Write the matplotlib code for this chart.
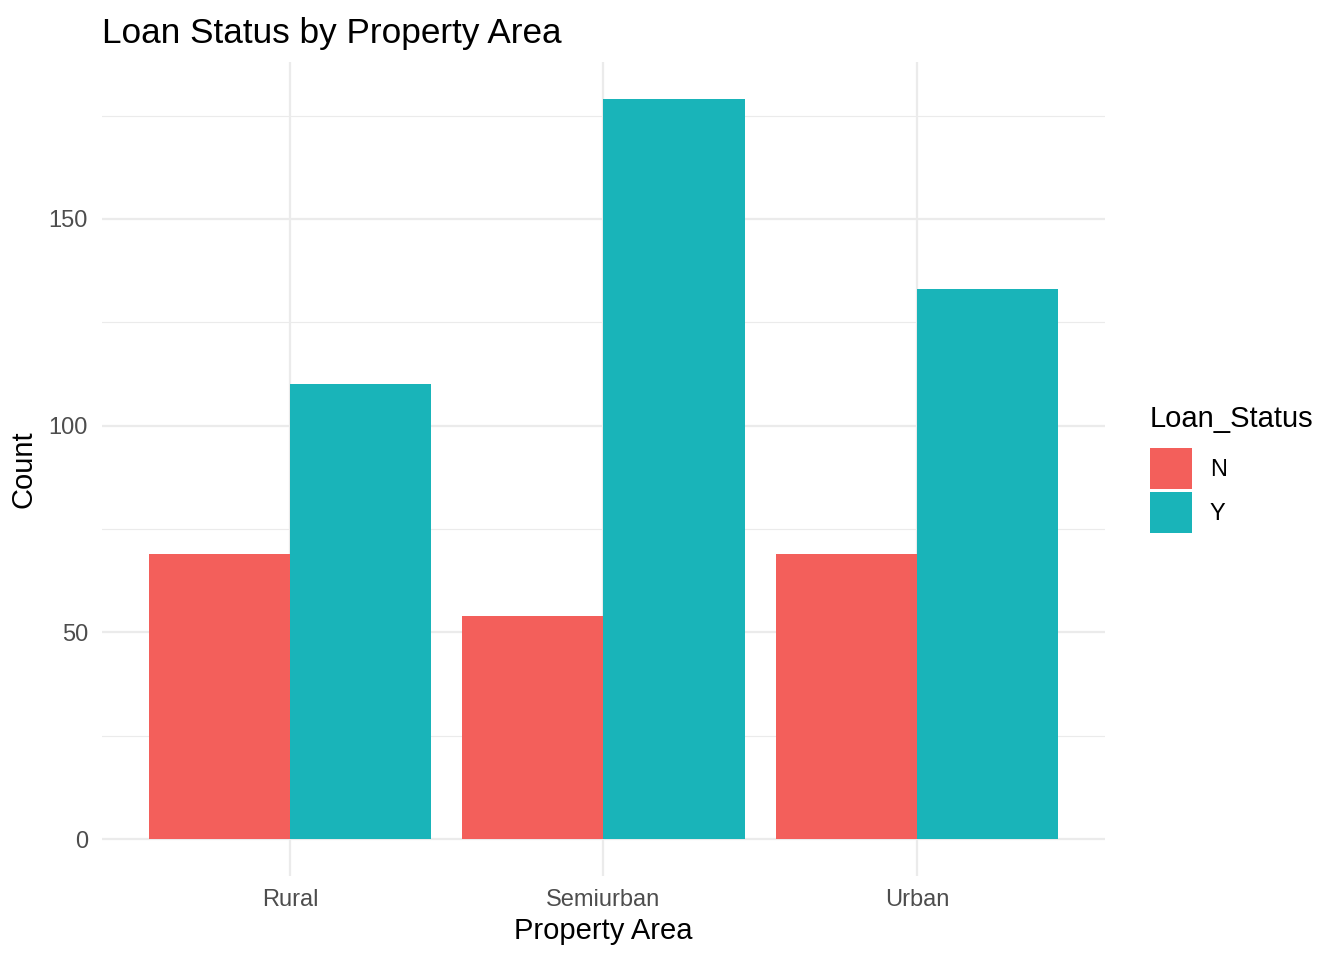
import numpy as np
import matplotlib
matplotlib.use("Agg")
import matplotlib.pyplot as plt
from matplotlib.patches import Patch

# ---- data ------------------------------------------------------------------
areas = ["Rural", "Semiurban", "Urban"]
status = ["N", "Y"]
count_n = [69, 54, 69]
count_y = [110, 179, 133]
colors = ["#F35F5B", "#19B4B9"]

plt.rcParams["font.family"] = ["Liberation Sans", "DejaVu Sans"]

fig = plt.figure(figsize=(13.44, 9.6), dpi=100)
ax = fig.add_axes([102 / 1344, 1 - 876 / 960, (1105 - 102) / 1344, (876 - 62) / 960])

x = np.arange(1, len(areas) + 1)
w = 0.45
ax.bar(x - w / 2, count_n, width=w, color=colors[0], zorder=2, linewidth=0)
ax.bar(x + w / 2, count_y, width=w, color=colors[1], zorder=2, linewidth=0)

ymax = max(max(count_n), max(count_y))
ax.set_xlim(0.4, len(areas) + 0.6)
ax.set_ylim(-0.05 * ymax, ymax * 1.05)

# ggplot theme_minimal look
ax.set_xticks(x)
ax.set_xticklabels(areas)
ax.set_yticks([0, 50, 100, 150])
ax.set_yticks([25, 75, 125, 175], minor=True)
ax.grid(which="major", color="#EBEBEB", lw=1.6, zorder=0)
ax.grid(which="minor", axis="y", color="#EBEBEB", lw=0.8, zorder=0)
ax.set_axisbelow(True)
for s in ax.spines.values():
    s.set_visible(False)
ax.tick_params(which="both", length=0, labelsize=17, labelcolor="#4D4D4D")
ax.tick_params(axis="x", pad=9)
ax.tick_params(axis="y", pad=10)

ax.set_xlabel("Property Area", fontsize=21, labelpad=5)
ax.set_ylabel("Count", fontsize=21, labelpad=8)
ax.set_title("Loan Status by Property Area", loc="left", fontsize=25.3, pad=14)

handles = [Patch(facecolor=c, edgecolor="none") for c in colors]
leg = ax.legend(handles, status, title="Loan_Status", frameon=False,
                loc="center left", bbox_to_anchor=(1.035, 0.5),
                fontsize=17, title_fontsize=21, handlelength=1.8,
                handleheight=2.3, labelspacing=0.15, handletextpad=0.75,
                borderaxespad=0)
leg._legend_box.align = "left"
leg._legend_box.sep = 11

fig.savefig("out.png", dpi=100)
